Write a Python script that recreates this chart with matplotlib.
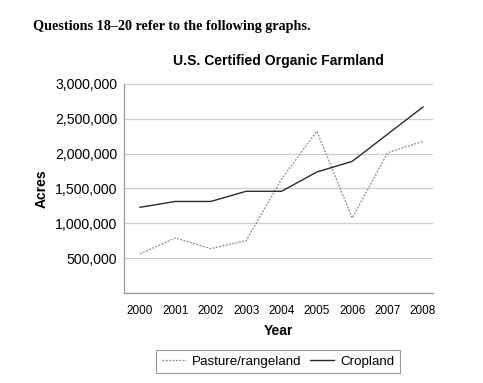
import matplotlib
matplotlib.use("Agg")
import matplotlib.pyplot as plt
from matplotlib.ticker import FuncFormatter

plt.rcParams["font.family"] = ["Liberation Sans", "DejaVu Sans"]

years = [2000, 2001, 2002, 2003, 2004, 2005, 2006, 2007, 2008]
pasture = [561000, 790000, 637000, 751000, 1633000, 2323000, 1076000, 2014000, 2176000]
cropland = [1230000, 1314000, 1314000, 1460000, 1460000, 1737000, 1890000, 2280000, 2670000]
y_ticks = [0, 500000, 1000000, 1500000, 2000000, 2500000, 3000000]

fig = plt.figure(figsize=(4.83, 3.83), dpi=100)
ax = fig.add_axes([0.2567, 0.235, 0.6398, 0.5457])

ax.plot(years, pasture, color="#8a8a8a", lw=0.9, ls=(0, (1.5, 1.2)), label="Pasture/rangeland")
ax.plot(years, cropland, color="#2a2a2a", lw=1.0, label="Cropland")

ax.set_xlim(1999.548, 2008.283)
ax.set_ylim(0, 3000000)
ax.set_yticks(y_ticks)
ax.yaxis.set_major_formatter(FuncFormatter(lambda v, p: "" if v == 0 else f"{int(v):,}"))
ax.set_xticks(years)
ax.set_xticklabels([str(y) for y in years], fontsize=8.5)
ax.tick_params(axis="y", labelsize=10.2, length=0, pad=5)
ax.tick_params(axis="x", length=0, pad=9)
ax.grid(True, axis="y", color="#cfcfcf", lw=0.9)
ax.set_axisbelow(True)

for s in ["top", "right"]:
    ax.spines[s].set_visible(False)
for s in ["left", "bottom"]:
    ax.spines[s].set_color("#9a9a9a")
    ax.spines[s].set_linewidth(0.9)

ax.set_title("U.S. Certified Organic Farmland", fontsize=10, fontweight="bold", pad=14)
ax.set_xlabel("Year", fontsize=10, fontweight="bold", labelpad=5)
ax.set_ylabel("Acres", fontsize=10, fontweight="bold", labelpad=4)

fig.text(0.068, 0.93, "Questions 18\u201320 refer to the following graphs.",
         family=["Liberation Serif", "DejaVu Serif"], fontweight="bold", fontsize=10.2,
         va="center", ha="left")

leg = fig.legend(loc="center", bbox_to_anchor=(0.5756, 0.055), ncol=2, fontsize=9.6,
                 frameon=True, fancybox=False, edgecolor="#9a9a9a", framealpha=1,
                 handlelength=1.8, columnspacing=0.7, handletextpad=0.45)
leg.get_frame().set_linewidth(0.8)

fig.savefig("out.png", dpi=100)
